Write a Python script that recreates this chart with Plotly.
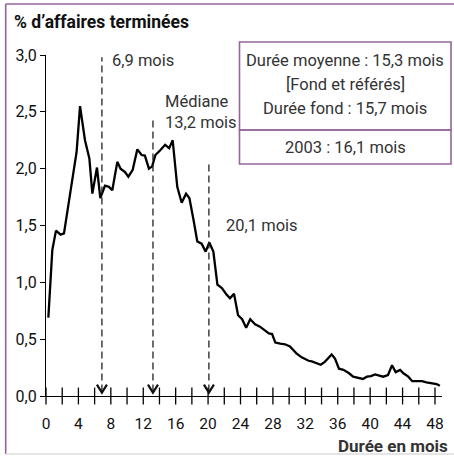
import plotly.graph_objects as go

# ---- data ----
months = [0.29, 0.78, 1.23, 1.8, 2.22, 2.75, 3.29, 3.78, 4.2, 4.81, 5.35, 5.72, 6.29, 6.7,
          7.28, 7.77, 8.18, 8.8, 9.2, 9.75, 10.16, 10.7, 11.27, 11.8, 12.2, 12.7, 13.1, 13.5,
          14.07, 14.7, 15.2, 15.63, 16.2, 16.74, 17.28, 17.7, 18.2, 18.67, 19.2, 19.7, 20.15,
          20.65, 21.15, 21.7, 22.3, 22.7, 23.2, 23.7, 24.2, 24.7, 25.2, 25.8, 26.4, 26.9, 27.5,
          27.9, 28.3, 28.9, 29.5, 30.1, 30.9, 31.55, 32.4, 32.8, 33.4, 33.9, 34.4, 35.25, 35.66,
          36.15, 36.7, 37.4, 37.9, 38.5, 39.1, 39.6, 40.1, 40.6, 41.0, 41.6, 42.2, 42.7, 43.15,
          43.7, 44.1, 44.7, 45.2, 45.7, 46.4, 46.95, 47.6, 48.2, 48.6]
pct = [0.69, 1.285, 1.455, 1.42, 1.43, 1.68, 1.92, 2.15, 2.55, 2.25, 2.09, 1.78, 2.01, 1.74,
       1.85, 1.84, 1.81, 2.06, 2.0, 1.97, 1.93, 1.99, 2.17, 2.12, 2.115, 2.0, 2.02, 2.12,
       2.16, 2.21, 2.18, 2.25, 1.84, 1.70, 1.78, 1.74, 1.55, 1.36, 1.34, 1.27, 1.35,
       1.27, 0.98, 0.95, 0.89, 0.86, 0.90, 0.71, 0.675, 0.60, 0.675, 0.63, 0.61, 0.58, 0.55,
       0.545, 0.47, 0.46, 0.455, 0.435, 0.375, 0.34, 0.31, 0.305, 0.29, 0.275, 0.30, 0.365, 0.33,
       0.24, 0.23, 0.20, 0.17, 0.16, 0.15, 0.17, 0.175, 0.19, 0.18, 0.17, 0.185, 0.27, 0.21,
       0.23, 0.20, 0.17, 0.13, 0.13, 0.13, 0.12, 0.115, 0.105, 0.09]

marker_months = [6.9, 13.2, 20.1]
marker_tops = [2.98, 2.46, 2.06]
marker_labels = ["6,9 mois", "Médiane<br>13,2 mois", "20,1 mois"]

x_ticks_minor = list(range(0, 49, 2))
x_tick_labels = list(range(0, 49, 4))
y_ticks = [0.0, 0.5, 1.0, 1.5, 2.0, 2.5, 3.0]

box_lines = ["Durée moyenne : 15,3 mois", "[Fond et référés]", "Durée fond : 15,7 mois"]
box_2003 = "2003 : 16,1 mois"

# ---- layout geometry (pixels) ----
W, H = 454, 456
L, R, T, B = 46, 442, 55, 396
FONT = "Roboto, Liberation Sans, sans-serif"
PURPLE = "#94659a"
TXT = "#333333"

def px(x):
    return (x - L) / (R - L)

def py(y):
    return (B - y) / (B - T)

fig = go.Figure()

# tick crosses on x axis
fig.add_trace(go.Scatter(x=x_ticks_minor, y=[0] * len(x_ticks_minor), mode="markers",
                         marker=dict(symbol="line-ns-open", size=12, color="black",
                                     line=dict(color="black", width=1.3)),
                         hoverinfo="skip", showlegend=False, cliponaxis=False))

fig.add_trace(go.Scatter(x=months, y=pct, mode="lines",
                         line=dict(color="black", width=2.3),
                         showlegend=False, cliponaxis=False))

shapes = []
annotations = []
for m, top in zip(marker_months, marker_tops):
    shapes.append(dict(type="line", xref="x", yref="y", x0=m, x1=m, y0=0.04, y1=top,
                       line=dict(color="#222", width=1.3, dash="7px,4px")))
    # chevron arrowhead
    shapes.append(dict(type="path", xref="x", yref="y", xsizemode="pixel", ysizemode="pixel",
                       xanchor=m, yanchor=0.03,
                       path="M -5,8 L 0,0 L 5,8",
                       line=dict(color="#111", width=2.2)))

lab_font = dict(family=FONT, size=16.5, color=TXT)
annotations.append(dict(x=marker_months[0] + 0.95, y=2.95, xref="x", yref="y",
                        text=marker_labels[0], showarrow=False, xanchor="left", yanchor="middle",
                        font=lab_font))
annotations.append(dict(x=marker_months[1] + 1.2, y=2.5, xref="x", yref="y",
                        text=marker_labels[1], showarrow=False, xanchor="left", yanchor="middle",
                        align="left", font=lab_font))
annotations.append(dict(x=marker_months[2] + 1.85, y=1.5, xref="x", yref="y",
                        text=marker_labels[2], showarrow=False, xanchor="left", yanchor="middle",
                        font=lab_font))

# info boxes
shapes.append(dict(type="rect", xref="paper", yref="paper", x0=px(239.5), x1=px(451),
                   y0=py(130), y1=py(42), line=dict(color=PURPLE, width=1.6)))
shapes.append(dict(type="rect", xref="paper", yref="paper", x0=px(239.5), x1=px(451),
                   y0=py(164), y1=py(130), line=dict(color=PURPLE, width=1.6)))
for text, yc in zip(box_lines, [61, 84, 108]):
    annotations.append(dict(x=px(345), y=py(yc), xref="paper", yref="paper", text=text,
                            showarrow=False, xanchor="center", yanchor="middle", font=lab_font))
annotations.append(dict(x=px(345), y=py(147), xref="paper", yref="paper", text=box_2003,
                        showarrow=False, xanchor="center", yanchor="middle", font=lab_font))

# outer frame
shapes.append(dict(type="line", xref="paper", yref="paper", x0=px(5.7), x1=px(454),
                   y0=py(4), y1=py(4), line=dict(color=PURPLE, width=1.6)))
shapes.append(dict(type="line", xref="paper", yref="paper", x0=px(5.7), x1=px(5.7),
                   y0=py(4), y1=py(454), line=dict(color=PURPLE, width=1.6)))
shapes.append(dict(type="line", xref="paper", yref="paper", x0=px(5.7), x1=px(454),
                   y0=py(454), y1=py(454), line=dict(color="#dddddd", width=1.5)))

# titles
annotations.append(dict(x=px(12), y=py(22), xref="paper", yref="paper",
                        text="<b>% d’affaires terminées</b>", showarrow=False,
                        xanchor="left", yanchor="middle",
                        font=dict(family=FONT, size=17.5, color="#111")))
annotations.append(dict(x=px(450), y=py(446), xref="paper", yref="paper",
                        text="<b>Durée en mois</b>", showarrow=False,
                        xanchor="right", yanchor="middle",
                        font=dict(family=FONT, size=17, color="#333")))

fig.update_layout(
    width=W, height=H,
    margin=dict(l=L, r=W - R, t=T, b=H - B, autoexpand=False),
    paper_bgcolor="white", plot_bgcolor="white",
    separators=", ",
    shapes=shapes, annotations=annotations,
    xaxis=dict(range=[0, (R - L) / 8.104], showgrid=False, zeroline=False,
               showline=True, linecolor="black", linewidth=1.3,
               tickmode="array", tickvals=x_tick_labels, ticks="",
               tickfont=dict(family=FONT, size=15.5, color="#111"), ticklabelstandoff=13),
    yaxis=dict(range=[0, 3.0], showgrid=False, zeroline=False,
               showline=True, linecolor="black", linewidth=1.3,
               tickmode="array", tickvals=y_ticks, tickformat=".1f",
               ticks="outside", ticklen=5, tickwidth=1.3, tickcolor="black",
               tickfont=dict(family=FONT, size=16, color="#111")),
)

fig.write_html("out.html", config={"displayModeBar": False},
               post_script="document.body.style.margin='0';")
